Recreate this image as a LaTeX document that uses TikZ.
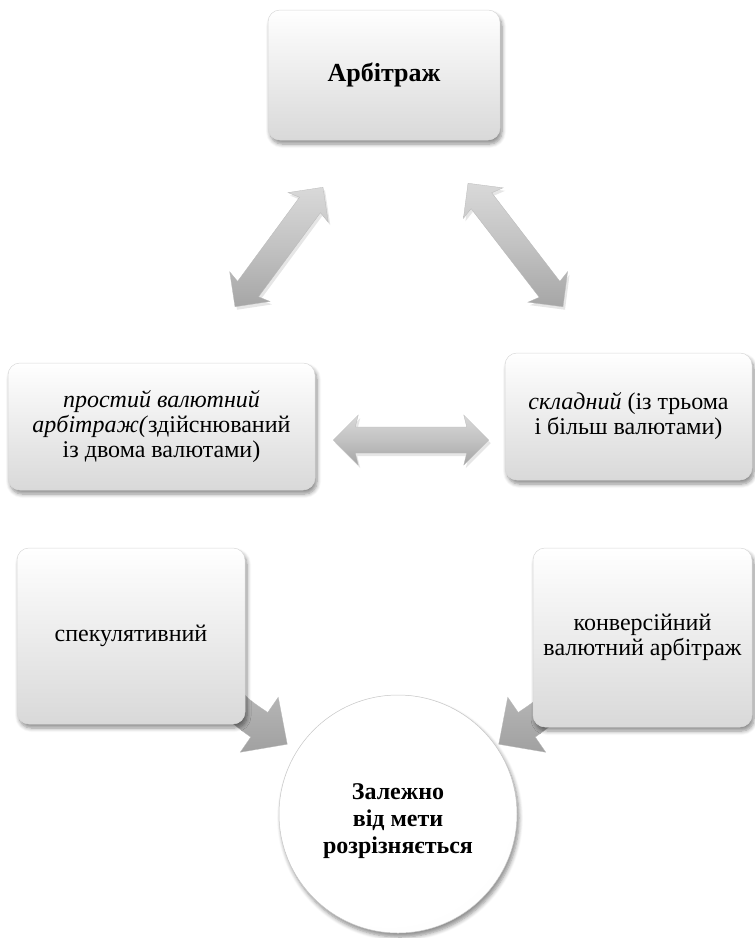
\documentclass[tikz,border=0pt]{standalone}
\usepackage{fontspec}
\setmainfont{Liberation Serif}
\usetikzlibrary{calc,shadows,shadows.blur,backgrounds}

\newcommand\bodyfont{\fontsize{24}{25}\selectfont}
\newcommand\headfont{\fontsize{26}{28}\selectfont\bfseries}
\newcommand\hubfont{\fontsize{24}{27}\selectfont\bfseries}

% white face with a grey rim, for the round node
\pgfdeclareradialshading{rim}{\pgfpoint{-4bp}{6bp}}{%
  color(0bp)=(white); color(26bp)=(white); color(38bp)=(gray!8);
  color(50bp)=(gray!38)}

\tikzset{
  softshadow/.style={blur shadow={shadow xshift=2pt, shadow yshift=-4pt,
      shadow blur steps=6, shadow blur radius=4pt, shadow opacity=45}},
  card/.style={rectangle, rounded corners=12pt, draw=gray!30, line width=0.5pt,
      top color=white, bottom color=black!15, align=center, font=\bodyfont,
      inner sep=4pt, softshadow},
  hub/.style={circle, minimum size=238pt, inner sep=0pt, draw=gray!45,
      line width=0.5pt, shading=rim, softshadow},
  hubtext/.style={align=center, font=\hubfont, inner sep=0pt},
  fatarrow/.style={top color=gray!30, bottom color=gray!70, middle color=gray!48,
      draw=gray!55, line width=0.3pt,
      drop shadow={shadow xshift=2pt, shadow yshift=-3pt, opacity=0.2}},
  bentarrow/.style={top color=gray!45, bottom color=gray!74,
      draw=gray!55, line width=0.3pt}
}

% two-headed block arrow from tip #2 to tip #3
\newcommand\fatlink[3]{%
  \coordinate (#1-a) at ($(#2)!25pt!(#3)$);
  \coordinate (#1-b) at ($(#3)!25pt!(#2)$);
  \coordinate (#1-ai) at ($(#2)!22pt!(#3)$);
  \coordinate (#1-bi) at ($(#3)!22pt!(#2)$);
  \path[fatarrow] (#2)
    -- ($(#1-a)!25pt!90:(#3)$) -- ($(#1-ai)!13pt!90:(#3)$)
    -- ($(#1-bi)!13pt!-90:(#2)$) -- ($(#1-b)!25pt!-90:(#2)$)
    -- (#3)
    -- ($(#1-b)!25pt!90:(#2)$) -- ($(#1-bi)!13pt!90:(#2)$)
    -- ($(#1-ai)!13pt!-90:(#3)$) -- ($(#1-a)!25pt!-90:(#3)$)
    -- cycle;}

% bent block arrow, in coordinates relative to a box corner
\newcommand\bentshape{%
  \path[bentarrow]
    (-45,-74) -- (-15,-74)
    .. controls (-15,-34) and (2,-26) .. (22.5,-11.8)
    -- (33,-27) -- (42,20) -- (-5,28) -- (5.5,12.8)
    .. controls (-23.3,-7.1) and (-45,-29) .. (-45,-74) -- cycle;}

\begin{document}
\begin{tikzpicture}[x=1pt, y=-1pt]
  \useasboundingbox (0,0) rectangle (755,938);

  % boxes
  \node[card, minimum width=232pt, minimum height=130pt, font=\headfont]
    (top) at (384,75) {Арбітраж};
  \node[card, minimum width=307pt, minimum height=127pt]
    (simple) at (161.5,426.5)
    {\textit{простий валютний}\\\textit{арбітраж(}здійснюваний\\із двома валютами)};
  \node[card, minimum width=247pt, minimum height=127pt]
    (complex) at (628.5,416.5)
    {\textit{складний} (із трьома\\і більш валютами)};
  \node[card, minimum width=228pt, minimum height=176pt]
    (spec) at (131,636) {спекулятивний};
  \node[card, minimum width=219pt, minimum height=179pt]
    (conv) at (642.5,637.5) {конверсійний\\валютний арбітраж};
  \node[hub] (goal) at (398,814) {};
  \node[hubtext] (goaltext) at ($(goal.center)+(0,7)$)
    {Залежно\\від мети\\розрізняється};

  % tips of the two-headed arrows
  \coordinate (la) at ($(simple.north)+(73.5,-56)$);
  \coordinate (lb) at ($(top.south)+(-61,47)$);
  \coordinate (ra) at ($(top.south)+(84,43)$);
  \coordinate (rb) at ($(complex.north)+(-65.5,-46)$);
  \coordinate (ha) at ($(simple.east)+(18,13.5)$);
  \coordinate (hb) at ($(complex.west)+(-16,23.5)$);

  \fatlink{arrL}{la}{lb}
  \fatlink{arrR}{rb}{ra}
  \fatlink{arrH}{ha}{hb}

  % bent arrows leave from behind the lower boxes towards the circle
  \begin{pgfonlayer}{background}
    \begin{scope}[shift={(spec.south east)}]
      \bentshape
    \end{scope}
    \begin{scope}[shift={($(conv.south west)+(8,-3)$)}, xscale=-1]
      \bentshape
    \end{scope}
  \end{pgfonlayer}
\end{tikzpicture}
\end{document}
